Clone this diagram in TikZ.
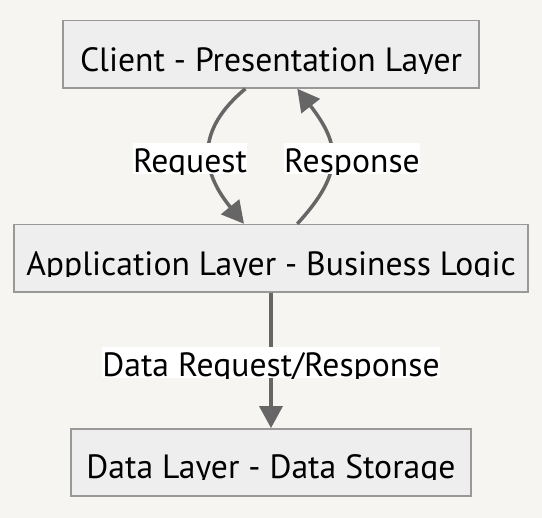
\documentclass[tikz,border=0pt]{standalone}
\usepackage{fontspec}
\setmainfont{PT Sans}
\usetikzlibrary{arrows.meta}
\definecolor{bgc}{HTML}{F6F5F1}
\definecolor{nodefill}{HTML}{EEEEEE}
\definecolor{nodeline}{HTML}{999999}
\definecolor{edgec}{HTML}{666666}
\newlength\reftw
\begin{document}
\settowidth\reftw{\fontsize{10pt}{12pt}\selectfont Client - Presentation Layer}%
\pgfmathsetmacro\fsz{10*382/\reftw}%
\begin{tikzpicture}[x=1pt,y=-1pt]
\tikzset{
  box/.style={draw=nodeline, fill=nodefill, line width=1.5pt, inner sep=0pt, minimum height=67.3pt},
  txt/.style={inner sep=0pt, anchor=base, font=\fontsize{\fsz pt}{\fsz pt}\selectfont},
  lbl/.style={txt, fill=white, text height=29.7pt, text depth=1.3pt},
  edge/.style={draw=edgec, line width=3.5pt, -{Triangle[length=22pt,width=23pt]}}
}
\useasboundingbox (0,0) rectangle (542,518);
\fill[bgc] (0,0) rectangle (542,518);
% nodes
\node[box, minimum width=416pt] (client) at (271,54.35) {};
\node[box, minimum width=514pt] (app) at (271,258.2) {};
\node[box, minimum width=400pt] (data) at (271,462.5) {};
\begin{scope}
  \clip (0,21) rectangle (542,73.3);
  \node[txt] (clienttxt) at (271,71.8) {Client - Presentation Layer};
\end{scope}
\begin{scope}
  \clip (0,225) rectangle (542,276.5);
  \node[txt] (apptxt) at (271,275.1) {Application Layer - Business Logic};
\end{scope}
\begin{scope}
  \clip (0,430) rectangle (542,480);
  \node[txt] (datatxt) at (271,478.5) {Data Layer - Data Storage};
\end{scope}
% edges
\draw[edge] ([xshift=-25.6pt]client.south) .. controls (196,130) and (200,170) .. ([xshift=-27pt]app.north);
\draw[edge] ([xshift=26.3pt]app.north) .. controls (345,172) and (340,144) .. ([xshift=26.3pt]client.south);
\draw[edge] (app.south) -- (data.north);
% labels
\begin{scope}
  \clip (0,143.3) rectangle (542,174.3);
  \node[lbl] (reqlbl) at (190,173) {Request};
  \node[lbl] (resplbl) at (352,173) {Response};
\end{scope}
\begin{scope}
  \clip (0,347.3) rectangle (542,378.3);
  \node[lbl] (datalbl) at (271,377) {Data Request/Response};
\end{scope}
\end{tikzpicture}
\end{document}
